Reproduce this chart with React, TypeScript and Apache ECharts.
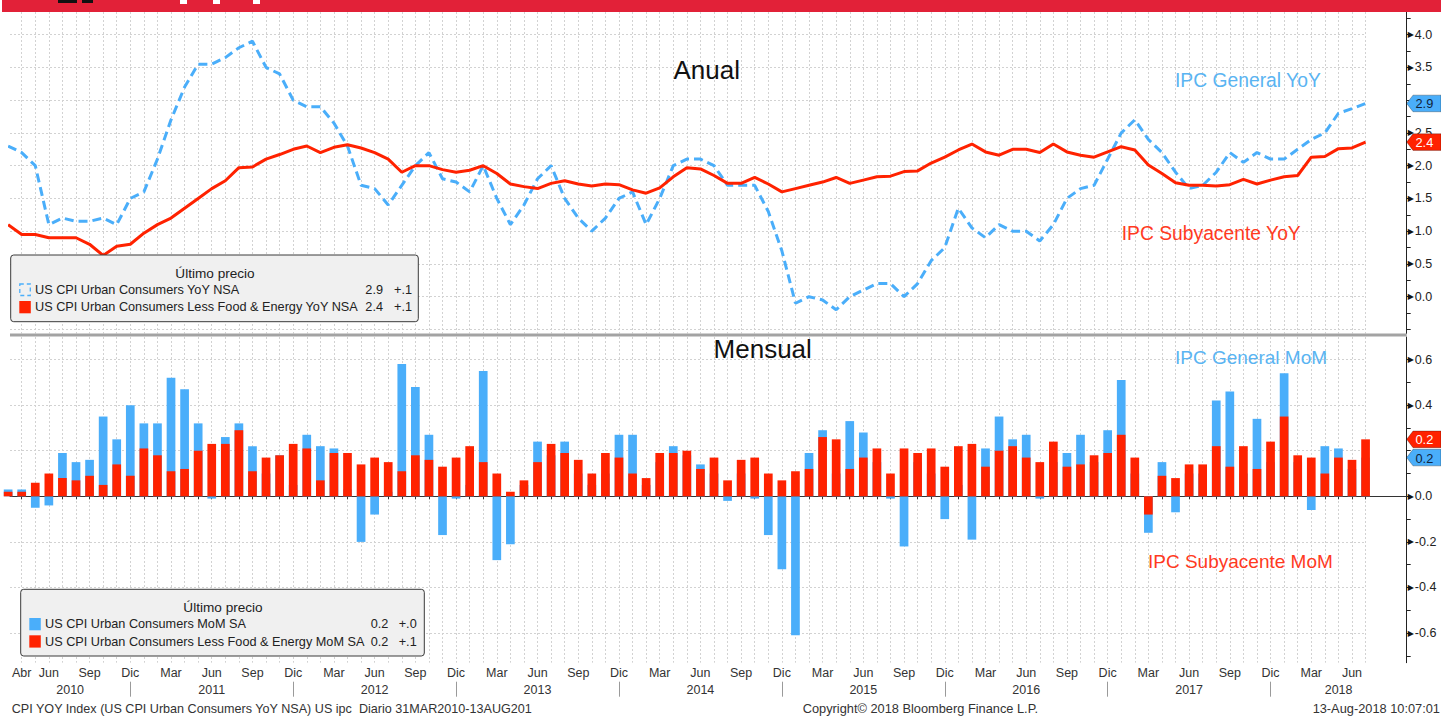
import React, { useEffect, useRef } from 'react';
import * as echarts from 'echarts';

// ---------- DATA (monthly, Mar 2010 .. Jul 2018) ----------
const START_MONTH_INDEX = 2; // Mar 2010, counting Jan 2010 = 0
const MONTH_NAMES = ['Ene', 'Feb', 'Mar', 'Abr', 'May', 'Jun', 'Jul', 'Ago', 'Sep', 'Oct', 'Nov', 'Dic'];
const YEARS = ['2010', '2011', '2012', '2013', '2014', '2015', '2016', '2017', '2018'];

// IPC General YoY (US CPI Urban Consumers YoY NSA)
const CPI_YOY = [
  2.3, 2.2, 2.0, 1.1, 1.2, 1.15, 1.15, 1.2, 1.1, 1.5,
  1.6, 2.1, 2.7, 3.2, 3.55, 3.55, 3.65, 3.8, 3.9, 3.5, 3.4, 3.0,
  2.9, 2.9, 2.65, 2.3, 1.7, 1.65, 1.4, 1.7, 2.0, 2.2, 1.8, 1.75,
  1.6, 2.0, 1.5, 1.1, 1.4, 1.8, 2.0, 1.5, 1.2, 1.0, 1.2, 1.5,
  1.6, 1.1, 1.5, 2.0, 2.1, 2.1, 2.0, 1.7, 1.7, 1.7, 1.3, 0.7,
  -0.1, 0.0, -0.05, -0.2, 0.0, 0.1, 0.2, 0.2, 0.0, 0.2, 0.55, 0.75,
  1.35, 1.05, 0.9, 1.1, 1.0, 1.0, 0.85, 1.1, 1.5, 1.65, 1.7, 2.1,
  2.5, 2.7, 2.4, 2.2, 1.9, 1.65, 1.7, 1.9, 2.2, 2.05, 2.2, 2.1,
  2.1, 2.25, 2.4, 2.5, 2.8, 2.87, 2.95,
];

// IPC Subyacente YoY (US CPI Urban Consumers Less Food & Energy YoY NSA)
const CORE_YOY = [
  1.1, 0.95, 0.95, 0.9, 0.9, 0.9, 0.8, 0.63, 0.77, 0.8,
  0.97, 1.1, 1.2, 1.35, 1.5, 1.65, 1.77, 1.97, 1.98, 2.1, 2.17, 2.25,
  2.3, 2.2, 2.28, 2.32, 2.27, 2.2, 2.1, 1.9, 2.0, 2.0, 1.94, 1.9,
  1.93, 2.0, 1.88, 1.72, 1.68, 1.65, 1.73, 1.77, 1.72, 1.69, 1.72, 1.71,
  1.63, 1.58, 1.66, 1.83, 1.97, 1.95, 1.85, 1.73, 1.73, 1.82, 1.72, 1.6,
  1.65, 1.7, 1.75, 1.82, 1.73, 1.78, 1.83, 1.84, 1.91, 1.92, 2.04, 2.13,
  2.24, 2.33, 2.21, 2.16, 2.25, 2.25, 2.2, 2.33, 2.21, 2.16, 2.13, 2.21,
  2.29, 2.24, 2.01, 1.88, 1.74, 1.7, 1.7, 1.69, 1.71, 1.79, 1.72, 1.78,
  1.83, 1.85, 2.13, 2.14, 2.26, 2.27, 2.36,
];

// IPC General MoM (US CPI Urban Consumers MoM SA)
const CPI_MOM = [
  0.03, 0.03, -0.05, -0.04, 0.19, 0.15, 0.16, 0.35, 0.25, 0.4,
  0.32, 0.32, 0.52, 0.47, 0.32, -0.01, 0.26, 0.32, 0.22, 0.1, 0.18, 0.05,
  0.27, 0.22, 0.21, 0.03, -0.2, -0.08, 0.02, 0.58, 0.48, 0.27, -0.17, -0.01,
  0.05, 0.55, -0.28, -0.21, 0.05, 0.24, 0.18, 0.24, 0.1, 0.05, 0.1, 0.27,
  0.27, 0.05, 0.15, 0.22, 0.18, 0.14, 0.1, -0.02, 0.1, -0.01, -0.17, -0.32,
  -0.61, 0.19, 0.29, 0.1, 0.33, 0.28, 0.15, -0.01, -0.22, 0.15, 0.1, -0.1,
  0.05, -0.19, 0.21, 0.35, 0.25, 0.27, -0.01, 0.15, 0.19, 0.27, 0.15, 0.29,
  0.51, 0.1, -0.16, 0.15, -0.07, 0.1, 0.1, 0.42, 0.46, 0.1, 0.34, 0.15,
  0.54, 0.15, -0.06, 0.22, 0.21, 0.12, 0.17,
];

// IPC Subyacente MoM (US CPI Urban Consumers Less Food & Energy MoM SA)
const CORE_MOM = [
  0.02, 0.02, 0.06, 0.1, 0.08, 0.07, 0.09, 0.05, 0.14, 0.09,
  0.21, 0.18, 0.11, 0.12, 0.2, 0.23, 0.23, 0.29, 0.11, 0.17, 0.18, 0.23,
  0.21, 0.07, 0.19, 0.19, 0.14, 0.17, 0.15, 0.11, 0.18, 0.16, 0.13, 0.17,
  0.22, 0.15, 0.1, 0.02, 0.07, 0.15, 0.23, 0.19, 0.16, 0.1, 0.19, 0.17,
  0.1, 0.08, 0.19, 0.19, 0.2, 0.12, 0.17, 0.07, 0.16, 0.17, 0.1, 0.07,
  0.11, 0.12, 0.26, 0.25, 0.12, 0.17, 0.21, 0.1, 0.21, 0.19, 0.21, 0.13,
  0.22, 0.23, 0.13, 0.2, 0.22, 0.17, 0.15, 0.24, 0.13, 0.14, 0.18, 0.19,
  0.27, 0.17, -0.08, 0.09, 0.08, 0.14, 0.14, 0.22, 0.13, 0.22, 0.12, 0.24,
  0.35, 0.18, 0.17, 0.1, 0.17, 0.16, 0.25,
];

// Axis tick values (labels hidden behind the last-value badges are omitted)
const TOP_Y_LABELS = [0, 0.5, 1, 1.5, 2, 2.5, 3.5, 4];
const TOP_Y_GRID = [-0.5, 0, 0.5, 1, 1.5, 2, 2.5, 3, 3.5, 4];
const TOP_Y_TICKS = [-0.5, -0.25, 0, 0.25, 0.5, 0.75, 1, 1.25, 1.5, 1.75, 2, 2.25, 2.5, 2.75, 3, 3.25, 3.5, 3.75, 4, 4.25];
const BOT_Y_LABELS = [-0.6, -0.4, -0.2, 0, 0.4, 0.6];
const BOT_Y_GRID = [-0.6, -0.4, -0.2, 0, 0.2, 0.4, 0.6];
const BOT_Y_TICKS = [-0.7, -0.6, -0.5, -0.4, -0.3, -0.2, -0.1, 0, 0.1, 0.2, 0.3, 0.4, 0.5, 0.6, 0.7];

const LEGEND_TOP = [
  { name: 'US CPI Urban Consumers YoY NSA', last: '2.9', chg: '+.1' },
  { name: 'US CPI Urban Consumers Less Food & Energy YoY NSA', last: '2.4', chg: '+.1' },
];
const LEGEND_BOT = [
  { name: 'US CPI Urban Consumers MoM SA', last: '0.2', chg: '+.0' },
  { name: 'US CPI Urban Consumers Less Food & Energy MoM SA', last: '0.2', chg: '+.1' },
];

// ---------- STYLE ----------
const BLUE = '#4aaefa';
const RED = '#ff2200';
const GRID_C = '#d2d2d2';
const FONT = "'Liberation Sans', Arial, sans-serif";

const X_MIN = 2.138;
const X_MAX = 105.03;
const X_BG_MAX = 102;

const monthX = CPI_YOY.map((_, i) => i + START_MONTH_INDEX);
const MONTH_TICKS = monthX.filter((m) => m >= 3);
const MONTH_LABEL_POS = MONTH_TICKS.filter((m) => m === 3 || m % 3 === 2);
const YEAR_SEPS = MONTH_TICKS.filter((m) => m % 12 === 11);
const YEAR_BOUNDS = [X_MIN, ...YEAR_SEPS, X_MAX];
const YEAR_POS = YEARS.map((_, i) => (YEAR_BOUNDS[i] + YEAR_BOUNDS[i + 1]) / 2);

const pairs = (arr: number[]) => arr.map((v, i) => [i + START_MONTH_INDEX, v]);

function bgX(grid: number) {
  return {
    gridIndex: grid, type: 'value', min: X_MIN, max: X_BG_MAX,
    axisLine: { show: false }, axisLabel: { show: false },
    axisTick: { show: false, customValues: MONTH_TICKS },
    splitLine: { show: true, lineStyle: { color: GRID_C, type: [2, 2], width: 1 } },
  };
}
function bgY(grid: number, min: number, max: number, vals: number[]) {
  return {
    gridIndex: grid, type: 'value', min, max,
    axisLine: { show: false }, axisLabel: { show: false },
    axisTick: { show: false, customValues: vals },
    splitLine: { show: true, lineStyle: { color: GRID_C, type: [2, 2], width: 1 } },
  };
}
function rightY(grid: number, min: number, max: number, ticks: number[], labels: number[]) {
  return {
    gridIndex: grid, type: 'value', position: 'right', min, max,
    axisLine: { show: true, lineStyle: { color: '#222', width: 1 } },
    axisTick: { show: true, customValues: ticks, length: 4, lineStyle: { color: '#222', width: 1 } },
    axisLabel: {
      customValues: labels, margin: 1,
      formatter: (v: number) => `{t|▶}{v|${(Math.abs(v) < 1e-9 ? 0 : v).toFixed(1)}}`,
      rich: {
        t: { fontFamily: 'DejaVu Sans', fontSize: 8, color: '#111', padding: [0, 1, 0, 0] },
        v: { fontFamily: FONT, fontSize: 12.5, color: '#222' },
      },
    },
    splitLine: { show: false },
  };
}

function txt(text: string, x: number, y: number, size: number, color: string, align = 'left', z = 100) {
  return {
    type: 'text', x, y, z,
    style: { text, fill: color, fontSize: size, fontFamily: FONT, align, textAlign: align, verticalAlign: 'middle', textVerticalAlign: 'middle' },
  };
}

function legendBox(x: number, y: number, w: number, h: number, items: any[], colors: string[], dashedFirst: boolean, valRight: number, chgRight: number, iconX: number, textX: number) {
  const els: any[] = [];
  els.push({ type: 'rect', z: 90, shape: { x, y, width: w, height: h, r: 3 }, style: { fill: '#f0f0f0', stroke: '#3a3a3a', lineWidth: 1 } });
  els.push(txt('Último precio', x + w / 2 + 0.5, y + 18, 13.6, '#222', 'center'));
  items.forEach((it, i) => {
    const yc = y + 35 + i * 17.3;
    if (i === 0 && dashedFirst) {
      els.push({ type: 'rect', z: 100, shape: { x: iconX + 0.5, y: yc - 6, width: 10.5, height: 11.5 }, style: { fill: 'none', stroke: colors[i], lineWidth: 1.3, lineDash: [4, 3] } });
    } else {
      els.push({ type: 'rect', z: 100, shape: { x: iconX, y: yc - 6.3, width: 11.5, height: 12.3 }, style: { fill: colors[i] } });
    }
    els.push(txt(it.name, textX, yc, 12.7, '#222'));
    els.push(txt(it.last, valRight, yc, 12.7, '#222', 'right'));
    els.push(txt(it.chg, chgRight, yc, 12.7, '#222', 'right'));
  });
  return els;
}

function badge(yc: number, fill: string, textColor: string, label: string) {
  return [
    { type: 'polygon', z: 110, shape: { points: [[1406.7, yc], [1413, yc - 8.3], [1441, yc - 8.3], [1441, yc + 8.3], [1413, yc + 8.3]] }, style: { fill, stroke: 'rgba(0,0,0,0.35)', lineWidth: 0.8 } },
    txt(label, 1415.5, yc + 0.5, 12.8, textColor, 'left', 120),
  ];
}

export default function App() {
  const ref = useRef<HTMLDivElement>(null);
  useEffect(() => {
    if (!ref.current) return;
    const chart = echarts.init(ref.current, null, { renderer: 'svg' });
    const option: any = {
      animation: false,
      backgroundColor: '#ffffff',
      textStyle: { fontFamily: FONT },
      grid: [
        { left: 10, right: 34.3, top: 12, height: 321.5, containLabel: false, outerBoundsMode: 'none' },
        { left: 10, width: 1355.6, top: 12, height: 321.5, containLabel: false, outerBoundsMode: 'none' },
        { left: 10, right: 34.3, top: 337, height: 325.7, containLabel: false, outerBoundsMode: 'none' },
        { left: 10, width: 1355.6, top: 337, height: 325.7, containLabel: false, outerBoundsMode: 'none' },
      ],
      xAxis: [
        { gridIndex: 0, type: 'value', min: X_MIN, max: X_MAX, show: false, splitLine: { show: false } },
        bgX(1),
        {
          gridIndex: 2, type: 'value', min: X_MIN, max: X_MAX, position: 'bottom',
          axisLine: { show: true, lineStyle: { color: '#333', width: 1 } },
          axisTick: { show: true, customValues: MONTH_TICKS, length: 3, lineStyle: { color: '#333' } },
          axisLabel: { customValues: MONTH_LABEL_POS, margin: 4, fontSize: 12.5, color: '#333', fontFamily: FONT, formatter: (v: number) => MONTH_NAMES[Math.round(v) % 12] },
          splitLine: { show: false },
        },
        {
          gridIndex: 2, type: 'value', min: X_MIN, max: X_MAX, position: 'bottom', offset: 19,
          axisLine: { show: false },
          axisTick: { show: true, customValues: YEAR_SEPS, length: 15, lineStyle: { color: '#9a9a9a' } },
          axisLabel: {
            customValues: YEAR_POS, margin: 2, fontSize: 12.5, color: '#333', fontFamily: FONT,
            formatter: (v: number) => { const i = YEAR_POS.findIndex((p) => Math.abs(p - v) < 1e-6); return i >= 0 ? YEARS[i] : ''; },
          },
          splitLine: { show: false },
        },
        bgX(3),
      ],
      yAxis: [
        rightY(0, -0.562, 4.346, TOP_Y_TICKS, TOP_Y_LABELS),
        bgY(1, -0.562, 4.346, TOP_Y_GRID),
        rightY(2, -0.73, 0.699, BOT_Y_TICKS, BOT_Y_LABELS),
        bgY(3, -0.73, 0.699, BOT_Y_GRID),
      ],
      series: [
        { name: 'IPC General YoY', type: 'line', xAxisIndex: 0, yAxisIndex: 0, data: pairs(CPI_YOY), symbol: 'none', showSymbol: false, clip: true, z: 3, lineStyle: { color: BLUE, width: 3, type: [9, 5] } },
        { name: 'IPC Subyacente YoY', type: 'line', xAxisIndex: 0, yAxisIndex: 0, data: pairs(CORE_YOY), symbol: 'none', showSymbol: false, clip: true, z: 4, lineStyle: { color: RED, width: 3 } },
        { name: 'IPC General MoM', type: 'bar', xAxisIndex: 2, yAxisIndex: 2, data: pairs(CPI_MOM), barWidth: 8.7, barGap: '-100%', clip: true, itemStyle: { color: BLUE } },
        { name: 'IPC Subyacente MoM', type: 'bar', xAxisIndex: 2, yAxisIndex: 2, data: pairs(CORE_MOM), barWidth: 8.7, barGap: '-100%', clip: true, itemStyle: { color: RED } },
      ],
    };
    chart.setOption(option);

    const yBlueTop = chart.convertToPixel({ yAxisIndex: 0 } as any, CPI_YOY[CPI_YOY.length - 1]) as number;
    const yRedTop = chart.convertToPixel({ yAxisIndex: 0 } as any, CORE_YOY[CORE_YOY.length - 1]) as number;
    const yBlueBot = chart.convertToPixel({ yAxisIndex: 2 } as any, CPI_MOM[CPI_MOM.length - 1]) as number;
    const yRedBot = chart.convertToPixel({ yAxisIndex: 2 } as any, CORE_MOM[CORE_MOM.length - 1]) as number;

    const graphics: any[] = [
      { type: 'rect', z: 100, shape: { x: 2, y: 0, width: 1439, height: 12 }, style: { fill: '#e22138' } },
      { type: 'rect', z: 100, shape: { x: 58, y: 0, width: 19, height: 3 }, style: { fill: '#111' } },
      { type: 'rect', z: 100, shape: { x: 82, y: 0, width: 11, height: 3 }, style: { fill: '#111' } },
      { type: 'rect', z: 100, shape: { x: 180, y: 0, width: 7, height: 4 }, style: { fill: '#ffffff' } },
      { type: 'rect', z: 100, shape: { x: 213, y: 0, width: 7, height: 4 }, style: { fill: '#ffffff' } },
      { type: 'rect', z: 100, shape: { x: 253, y: 0, width: 7, height: 4 }, style: { fill: '#ffffff' } },
      { type: 'rect', z: 60, shape: { x: 10, y: 333.5, width: 1396.7, height: 3 }, style: { fill: '#a3a3a3' } },
      txt('Anual', 706.7, 69.5, 26, '#111', 'center'),
      txt('Mensual', 762.7, 349, 26, '#111', 'center'),
      txt('IPC General YoY', 1175, 80, 19.3, '#5ab4f2'),
      txt('IPC Subyacente YoY', 1121.7, 233, 19.3, '#ff3a1f'),
      txt('IPC General MoM', 1175, 357, 19, '#5ab4f2'),
      txt('IPC Subyacente MoM', 1148, 561, 19, '#ff3a1f'),
      ...legendBox(10.7, 255, 407.6, 66.7, LEGEND_TOP, [BLUE, RED], true, 383, 412, 19.3, 35),
      ...legendBox(20.7, 589.3, 403.6, 66.7, LEGEND_BOT, [BLUE, RED], false, 388.3, 416.7, 29.3, 45),
      ...badge(yBlueTop, BLUE, '#10233a', LEGEND_TOP[0].last),
      ...badge(yRedTop, RED, '#ffffff', LEGEND_TOP[1].last),
      ...badge(yRedBot, RED, '#ffffff', LEGEND_BOT[1].last),
      ...badge(yBlueBot, BLUE, '#10233a', LEGEND_BOT[0].last),
      txt('CPI YOY Index (US CPI Urban Consumers YoY NSA) US ipc  Diario 31MAR2010-13AUG201', 11.7, 708.5, 12.6, '#333'),
      txt('Copyright© 2018 Bloomberg Finance L.P.', 802.7, 708.5, 12.8, '#333'),
      txt('13-Aug-2018 10:07:01', 1440, 708.5, 12.8, '#333', 'right'),
    ];
    chart.setOption({ graphic: graphics });

    return () => chart.dispose();
  }, []);

  return <div ref={ref} style={{ position: 'fixed', left: 0, top: 0, width: 1441, height: 716, background: '#fff' }} />;
}
